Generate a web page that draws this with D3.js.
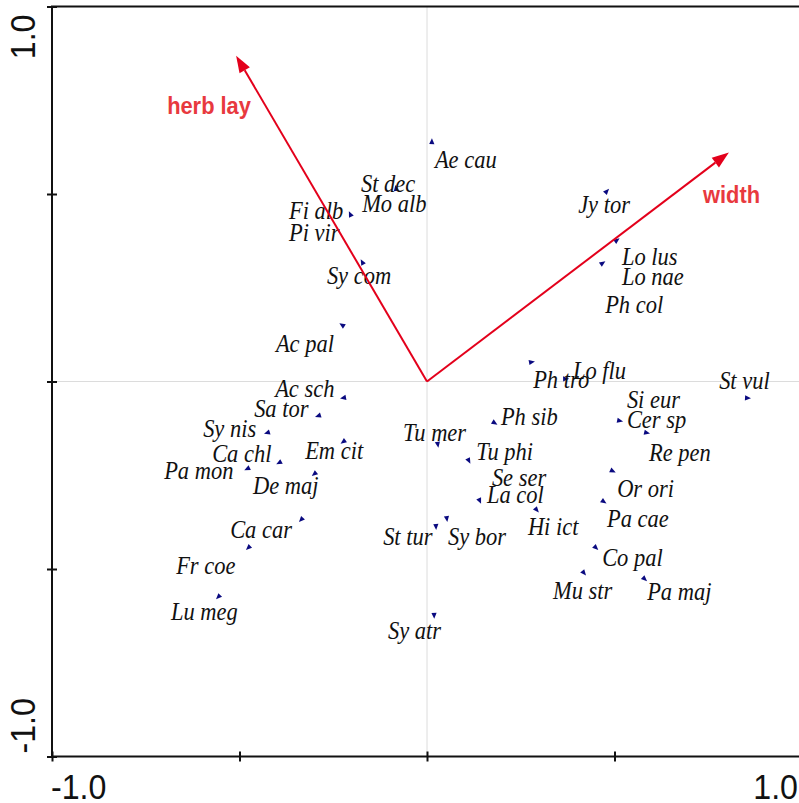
<!DOCTYPE html>
<html>
<head>
<meta charset="utf-8">
<script src="https://cdn.jsdelivr.net/npm/d3@7"></script>
<style>
  html, body { margin: 0; padding: 0; background: #fff; }
  svg { display: block; }
</style>
</head>
<body>
<svg id="chart" width="799" height="803"></svg>
<script>
// ---- data (ordination scores) ----
const speciesNames = ["Ae cau","St dec","Fi alb","Sy com","Jy tor","Lo lus","Lo nae","Ac pal","Ac sch","Sa tor",
  "Sy nis","Ca chl","Pa mon","Em cit","De maj","Ph tro","Lo flu","St vul","Cer sp","Re pen",
  "Ph sib","Tu mer","Tu phi","La col","Or ori","Pa cae","Hi ict","St tur","Sy bor","Ca car",
  "Fr coe","Lu meg","Sy atr","Co pal","Mu str","Pa maj","Mo alb","Pi vir","Ph col","Si eur","Se ser"];
const speciesX = [0.013,-0.083,-0.205,-0.173,0.480,0.507,0.469,-0.227,-0.224,-0.291,
  -0.427,-0.395,-0.480,-0.224,-0.301,0.280,0.371,0.856,0.515,0.587,
  0.181,0.029,0.112,0.141,0.496,0.472,0.293,0.024,0.053,-0.336,
  -0.477,-0.557,0.019,0.451,0.419,0.581,null,null,null,null,null];
const speciesY = [0.641,0.516,0.447,0.319,0.508,0.377,0.316,0.151,-0.044,-0.092,
  -0.137,-0.217,-0.233,-0.161,-0.247,0.052,0.007,-0.044,-0.105,-0.137,
  -0.111,-0.169,-0.212,-0.319,-0.239,-0.321,-0.343,-0.388,-0.367,-0.369,
  -0.444,-0.575,-0.625,-0.444,-0.511,-0.527,null,null,null,null,null];
const labelX = [0.021,-0.176,-0.368,-0.267,0.403,0.520,0.520,-0.403,-0.405,-0.461,
  -0.597,-0.573,-0.701,-0.325,-0.464,0.283,0.389,0.779,0.533,0.592,
  0.197,-0.064,0.131,0.160,0.507,0.480,0.269,-0.117,0.056,-0.525,
  -0.669,-0.683,-0.104,0.467,0.336,0.587,-0.173,-0.368,0.475,0.533,0.173];
const labelY = [0.569,0.505,0.433,0.260,0.449,0.311,0.257,0.079,-0.041,-0.095,
  -0.148,-0.215,-0.260,-0.207,-0.300,-0.017,0.007,-0.020,-0.124,-0.212,
  -0.116,-0.159,-0.209,-0.324,-0.308,-0.388,-0.409,-0.436,-0.436,-0.417,
  -0.513,-0.636,-0.687,-0.492,-0.580,-0.583,0.452,0.375,0.183,-0.071,-0.279];

const envNames = ["herb lay","width"];
const envX = [-0.509, 0.805];
const envY = [0.869, 0.611];
const envLabelX = [-0.693, 0.736];
const envLabelY = [0.713, 0.476];

const tickValues = [-1, -0.5, 0, 0.5, 1];
const tickLabelValues = [-1, 1];
const tickLabels = ["-1.0", "1.0"];

// ---- drawing ----
const svg = d3.select("#chart");
const x = d3.scaleLinear().domain([-1, 1]).range([52, 802]);
const y = d3.scaleLinear().domain([-1, 1]).range([756.5, 6.5]);

// zero grid lines
svg.append("line").attr("x1", x(0)).attr("x2", x(0)).attr("y1", y(1)).attr("y2", y(-1))
  .attr("stroke", "#dcdcdc").attr("stroke-width", 1);
svg.append("line").attr("x1", x(-1)).attr("x2", x(1)).attr("y1", y(0)).attr("y2", y(0))
  .attr("stroke", "#dcdcdc").attr("stroke-width", 1);

// frame
const axisColor = "#111";
svg.append("rect").attr("x", x(-1)).attr("y", y(1)).attr("width", x(1) - x(-1)).attr("height", y(-1) - y(1))
  .attr("fill", "none").attr("stroke", axisColor).attr("stroke-width", 2);

// axes with crossing ticks
const bottomAxis = d3.axisBottom(x).tickValues(tickValues).tickSize(5).tickFormat("");
const gB = svg.append("g").attr("transform", `translate(0,${y(-1)})`).call(bottomAxis);
gB.select(".domain").remove();
gB.selectAll(".tick line").attr("y1", -5).attr("y2", 5).attr("stroke", axisColor).attr("stroke-width", 2);

const leftAxis = d3.axisLeft(y).tickValues(tickValues).tickSize(5).tickFormat("");
const gL = svg.append("g").attr("transform", `translate(${x(-1)},0)`).call(leftAxis);
gL.select(".domain").remove();
gL.selectAll(".tick line").attr("x1", -5).attr("x2", 5).attr("stroke", axisColor).attr("stroke-width", 2);

// tick labels (slightly condensed, tall sans)
const tickFont = "Liberation Sans, Arial, sans-serif";
tickLabelValues.forEach((v, i) => {
  const bx = v < 0 ? x(v) - 1 : x(v) - 4;
  svg.append("text")
    .attr("transform", `translate(${bx},799) scale(0.92,1)`)
    .attr("text-anchor", v < 0 ? "start" : "end")
    .attr("font-family", tickFont).attr("font-size", 35).attr("fill", "#111")
    .text(tickLabels[i]);
  const ly = v < 0 ? y(v) - 3 : y(v) + 8;
  svg.append("text")
    .attr("transform", `translate(35,${ly}) rotate(-90) scale(0.92,1)`)
    .attr("text-anchor", v < 0 ? "start" : "end")
    .attr("font-family", tickFont).attr("font-size", 35).attr("fill", "#111")
    .text(tickLabels[i]);
});

// species markers: small arrowheads pointing away from origin
const markerColor = "#0a0a80";
const species = speciesNames.map((n, i) => ({
  name: n, x: speciesX[i], y: speciesY[i], lx: labelX[i], ly: labelY[i]
}));
svg.append("g").selectAll("path")
  .data(species.filter(d => d.x !== null))
  .join("path")
  .attr("d", "M3,0 L-3,-2.6 L-3,2.6 Z")
  .attr("fill", markerColor)
  .attr("transform", d => {
    const px = x(d.x), py = y(d.y);
    const ang = Math.atan2(py - y(0), px - x(0)) * 180 / Math.PI;
    return `translate(${px},${py}) rotate(${ang})`;
  });

// species labels (tall, condensed italic serif)
svg.append("g").selectAll("text")
  .data(species)
  .join("text")
  .attr("transform", d => `translate(${x(d.lx)},${y(d.ly)}) scale(0.9,1)`)
  .attr("font-family", "Liberation Serif, 'Times New Roman', serif")
  .attr("font-style", "italic")
  .attr("font-size", 25)
  .attr("fill", "#111")
  .text(d => d.name);

// environmental arrows
const red = "#e3001b";
const env = envNames.map((n, i) => ({ name: n, x: envX[i], y: envY[i], lx: envLabelX[i], ly: envLabelY[i] }));
const gE = svg.append("g");
env.forEach(d => {
  const x0 = x(0), y0 = y(0), x1 = x(d.x), y1 = y(d.y);
  const ang = Math.atan2(y1 - y0, x1 - x0);
  const headLen = 17, headW = 6;
  const bx = x1 - headLen * Math.cos(ang), by = y1 - headLen * Math.sin(ang);
  gE.append("line").attr("x1", x0).attr("y1", y0).attr("x2", bx).attr("y2", by)
    .attr("stroke", red).attr("stroke-width", 2);
  const px = -Math.sin(ang), py = Math.cos(ang);
  gE.append("path")
    .attr("d", `M${x1},${y1} L${bx + headW * px},${by + headW * py} L${bx - headW * px},${by - headW * py} Z`)
    .attr("fill", red);
  gE.append("text")
    .attr("transform", `translate(${x(d.lx)},${y(d.ly)}) scale(0.93,1)`)
    .attr("font-family", "Liberation Sans, Arial, sans-serif")
    .attr("font-weight", "bold").attr("font-size", 23.5)
    .attr("fill", "#e8393e")
    .text(d.name);
});
</script>
</body>
</html>
